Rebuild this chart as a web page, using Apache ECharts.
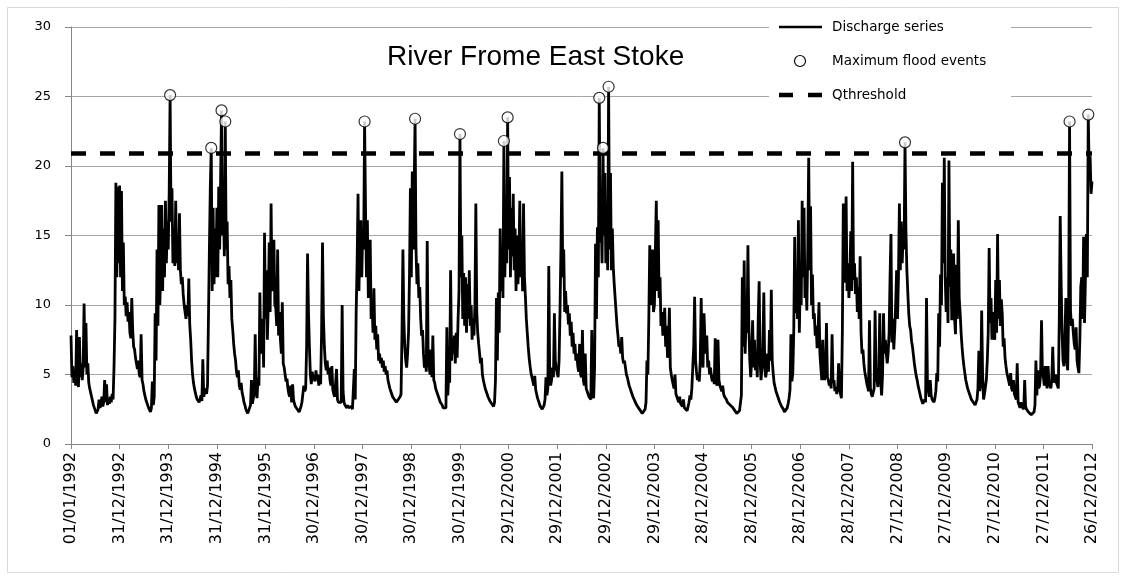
<!DOCTYPE html>
<html>
<head>
<meta charset="utf-8">
<script src="https://cdn.jsdelivr.net/npm/echarts@6/dist/echarts.min.js"></script>
<style>
html, body { margin: 0; padding: 0; background: #fff; }
#chart { width: 1128px; height: 580px; }
</style>
</head>
<body>
<div id="chart"></div>
<script>
// daily discharge, one value per ~week, one row per year
var years = [1992, 1993, 1994, 1995, 1996, 1997, 1998, 1999, 2000, 2001, 2002,
             2003, 2004, 2005, 2006, 2007, 2008, 2009, 2010, 2011, 2012];

var q1992 = [7.8,4.8,5.6,4.4,5.2,4.2,8.2,4.6,4.1,7.7, 4.8,5.8,4.6,5.5,10.1,5.5,8.7,5.0,5.8,4.4, 4.0,3.7,3.4,3.1,2.8,2.6,2.4,2.2,2.3,2.5, 3.2,2.6,2.8,3.4,2.7,3.0,4.6,3.0,4.3,2.8, 3.2,2.9,3.4,3.0,3.6,3.2,5.5,9.0,18.8,12.0, 18.5,13.0];
var q1993 = [18.6,12.0,18.2,11.0,14.5,10.0,10.6,9.2,10.2,8.8, 9.5,8.0,7.6,10.5,8.2,7.0,6.8,6.2,5.8,5.4, 6.0,5.0,4.8,7.9,4.6,4.3,3.8,3.5,3.2,3.0, 2.8,2.6,2.5,2.3,2.6,4.5,2.8,3.4,9.4,6.0, 14.0,8.5,17.2,10.0,12.5,17.2,11.0,15.5,12.0,17.5, 13.0,16.0];
var q1994 = [14.0,18.0,25.1,16.0,18.4,13.0,15.5,12.8,17.5,13.0, 15.0,12.5,16.6,12.5,11.5,12.0,10.8,10.0,9.5,9.0, 10.0,9.2,11.9,8.6,7.5,6.0,5.0,4.4,4.0,3.7, 3.4,3.2,3.1,3.0,3.2,3.5,3.1,6.1,3.4,3.8, 4.0,3.6,4.2,9.0,14.0,18.5,21.3,11.0,17.0,11.5, 15.5,12.0];
var q1995 = [17.0,12.0,18.5,14.0,19.0,24.0,15.0,17.5,13.5,23.2, 14.0,16.0,11.5,12.8,10.5,11.8,9.0,8.2,7.2,6.5, 6.0,5.2,4.8,5.3,4.2,3.9,4.4,3.7,3.4,3.0, 2.8,2.5,2.4,2.2,2.3,2.6,2.8,4.6,2.9,3.3, 3.6,7.9,3.8,3.3,4.8,4.2,10.9,6.5,7.8,9.0, 5.5,15.2];
var q1996 = [9.0,12.5,7.5,10.0,14.5,9.5,17.3,11.0,13.0,14.7, 10.0,9.8,8.5,14.0,7.8,9.5,7.5,6.5,10.2,5.8, 5.5,5.0,4.5,4.7,4.0,3.6,3.4,4.2,3.0,4.3, 3.2,2.9,2.7,2.6,2.5,2.4,2.3,2.5,2.7,3.0, 3.6,4.2,3.8,4.0,7.0,13.7,9.5,7.0,5.0,4.3, 5.2,4.6];
var q1997 = [4.8,4.5,5.3,4.6,5.0,4.2,4.9,4.3,8.0,14.5, 9.0,7.0,5.8,5.3,6.0,5.0,5.5,4.6,4.2,5.6, 3.9,3.6,3.4,3.3,5.4,3.2,3.0,3.1,2.9,3.0, 10.0,3.8,3.0,2.8,2.7,2.6,2.8,2.6,2.5,2.6, 2.7,2.5,2.6,5.4,3.2,9.5,13.0,18.0,11.0,15.0, 16.1,12.0];
var q1998 = [15.5,14.0,23.2,17.0,12.0,16.1,10.5,12.0,14.7,9.0, 10.2,8.0,11.2,7.5,8.5,6.8,7.9,6.0,6.5,5.8, 6.2,5.5,6.0,5.2,5.6,5.0,5.3,4.6,4.3,4.0, 3.8,3.6,3.4,3.3,3.2,3.1,3.0,3.0,3.2,3.1, 3.4,3.6,8.0,14.0,9.0,7.0,6.0,5.5,6.5,8.0, 12.0,18.4];
var q1999 = [12.0,19.6,14.0,18.4,23.4,14.0,11.5,13.0,10.5,11.3, 9.0,7.8,8.2,6.5,5.5,6.2,5.2,14.6,6.0,5.6, 5.0,6.8,4.8,7.8,4.6,4.4,4.0,3.8,3.6,3.4, 3.2,3.0,2.9,2.8,2.6,2.5,2.7,2.6,8.4,3.5, 5.0,4.4,12.5,6.0,7.6,6.5,7.8,5.8,8.0,6.2, 9.0,11.0];
var q2000 = [22.3,12.0,15.0,9.0,12.3,8.5,12.0,8.0,11.5,9.0, 12.5,8.5,10.0,7.5,9.0,7.8,10.0,17.3,9.5,8.0, 7.2,6.5,5.8,6.2,5.0,4.6,4.3,4.0,3.8,3.6, 3.4,3.3,3.1,3.0,2.9,2.8,2.7,3.0,4.6,10.5, 6.0,10.9,8.0,15.5,11.0,14.0,10.5,21.8,12.0,16.0, 13.0,23.5];
var q2001 = [14.0,19.2,12.0,17.0,13.5,18.0,12.5,15.5,11.0,15.0, 11.5,13.0,17.5,12.0,14.0,11.0,17.3,12.0,10.6,9.0, 8.0,7.0,6.2,5.6,5.1,4.8,4.5,4.2,4.9,3.9, 3.6,3.3,3.1,2.9,2.7,2.6,2.5,2.6,2.8,3.2, 4.8,3.5,4.0,12.8,5.0,4.2,4.6,5.5,4.8,9.4, 6.0,5.4];
var q2002 = [5.5,4.8,6.0,9.5,14.0,19.6,12.0,14.0,9.5,11.0, 9.4,10.0,8.6,9.4,7.8,8.8,7.0,8.0,6.5,7.2, 6.0,6.5,5.6,5.2,7.2,5.0,4.8,8.2,4.6,4.2, 6.5,4.0,3.8,3.6,3.4,3.3,3.2,8.2,3.6,3.3, 5.5,14.4,9.0,15.6,12.0,24.9,14.5,16.5,13.0,21.3, 15.0,19.5];
var q2003 = [13.0,17.0,12.5,25.7,14.0,19.5,12.5,15.5,12.7,11.5, 10.5,9.5,8.5,7.8,7.0,7.2,6.5,7.7,6.2,5.8, 6.0,5.5,5.0,4.8,4.5,4.2,4.0,3.8,3.6,3.4, 3.3,3.1,3.0,2.8,2.7,2.6,2.5,2.4,2.3,2.2, 2.2,2.3,2.5,3.0,6.0,5.0,9.0,14.3,10.0,11.0, 14.0,9.5];
var q2004 = [10.0,14.0,17.5,11.0,16.1,10.5,12.0,8.5,9.5,7.8, 8.5,9.8,7.0,8.5,6.2,7.0,9.8,5.5,5.0,4.6, 4.3,4.0,5.0,3.6,3.4,3.2,3.0,3.4,2.9,2.8, 2.7,3.2,2.6,2.5,2.6,2.4,2.5,3.0,3.5,3.2, 4.0,5.5,7.0,10.6,6.0,5.2,4.6,5.0,4.5,6.0, 10.5,6.5];
var q2005 = [5.5,9.4,7.5,6.5,7.8,5.5,6.0,5.0,5.5,4.8, 4.5,5.0,4.3,7.6,4.5,4.2,7.5,4.6,4.2,4.0, 3.8,4.2,3.6,3.4,3.5,3.2,3.0,3.1,2.9,2.8, 2.7,2.9,2.6,2.5,2.4,2.3,2.2,2.3,2.2,2.4, 2.3,3.5,12.0,7.0,13.2,6.5,9.0,8.0,14.3,8.5, 6.0,4.8];
var q2006 = [6.0,8.9,5.5,7.5,5.3,6.5,4.8,9.0,11.7,6.0, 4.6,5.5,7.0,10.9,5.5,4.8,5.3,6.5,5.2,8.2, 6.0,11.1,6.0,5.1,4.4,4.1,3.8,3.6,3.4,3.2, 3.0,2.9,2.7,2.6,2.5,2.3,2.2,2.4,2.6,2.9, 3.3,3.9,7.9,4.5,5.1,8.0,14.9,9.4,12.5,9.0, 16.1,8.0];
var q2007 = [12.0,10.0,17.5,12.0,17.0,10.5,12.0,9.6,14.0,20.6, 12.5,17.1,10.0,12.2,9.0,9.4,7.8,8.5,6.9,8.0, 10.2,6.5,5.5,4.6,7.5,5.0,4.6,5.2,8.7,4.8, 4.6,4.2,4.5,4.0,7.9,4.4,4.6,3.8,4.1,3.6, 4.0,5.8,4.0,3.6,3.3,8.0,17.3,11.6,14.0,17.8, 11.0,13.0];
var q2008 = [10.5,12.0,15.3,11.0,20.3,11.8,13.0,10.8,12.0,9.5, 11.3,9.0,13.5,8.0,6.5,6.8,5.8,5.2,4.8,4.4, 4.1,3.8,8.9,4.0,3.6,3.4,3.3,4.0,9.6,5.0, 4.6,4.1,5.5,9.4,4.5,3.5,5.0,9.4,6.5,7.5, 6.5,5.8,6.6,8.0,12.0,15.1,7.3,9.0,6.8,8.2, 10.0,12.5];
var q2009 = [9.0,12.0,17.3,12.5,16.0,13.0,15.0,14.0,21.7,15.4, 12.5,10.9,9.4,8.5,8.2,7.4,7.0,6.4,5.8,5.3, 4.9,4.6,4.2,3.9,3.6,3.3,3.1,2.9,2.8,3.2, 3.0,10.5,4.5,3.8,3.4,4.6,3.5,3.2,3.1,3.0, 3.3,3.8,5.1,4.5,9.4,7.0,12.2,10.0,18.8,13.0, 20.6,12.0];
var q2010 = [9.5,12.0,8.7,20.4,11.3,14.0,8.9,10.5,13.7,9.0, 7.9,12.9,9.0,16.1,10.5,9.4,8.0,7.0,6.2,5.6, 5.1,4.6,4.3,4.0,3.8,3.6,3.4,3.2,3.1,3.0, 2.9,2.8,2.9,3.2,4.0,6.7,3.8,4.4,9.6,5.0, 3.2,3.6,4.1,4.6,6.0,8.0,14.1,8.7,10.5,7.5, 9.5,8.0];
var q2011 = [7.5,11.8,8.0,15.1,9.0,11.8,8.5,10.4,9.4,7.0, 7.6,6.2,5.6,5.1,4.8,4.5,4.2,5.1,4.0,3.8, 4.6,3.6,3.4,3.2,5.8,3.0,2.8,2.6,3.0,2.7, 2.6,2.5,4.6,2.7,2.5,2.4,2.3,2.2,2.2,2.1, 2.2,2.1,2.3,2.8,6.0,3.5,5.3,4.0,4.2,5.0, 8.9,5.0];
var q2012 = [4.8,4.2,5.6,4.5,4.0,5.6,4.4,4.2,4.0,4.6, 7.0,4.8,4.4,5.0,4.4,4.2,4.0,9.0,16.4,11.6, 8.0,6.0,5.6,7.5,10.5,6.0,5.3,9.5,23.2,9.6, 8.5,9.0,8.0,7.2,6.8,8.4,6.0,5.5,5.1,7.5, 11.3,12.0,9.0,14.9,8.7,12.0,15.1,12.0,23.7,19.5, 20.7,18.0];
var qLast = 18.9;   // 26/12/2012

var qRows = [q1992, q1993, q1994, q1995, q1996, q1997, q1998, q1999, q2000, q2001, q2002,
             q2003, q2004, q2005, q2006, q2007, q2008, q2009, q2010, q2011, q2012];

var qThreshold = 20.9;

// maximum flood events: year and week of the peak in the rows above
var floodYear = [1994, 1994, 1995, 1995, 1998, 1999, 2000, 2000, 2000, 2002, 2002, 2003, 2009, 2012, 2012];
var floodWeek = [2, 46, 5, 9, 2, 4, 0, 47, 51, 45, 49, 3, 8, 28, 48];

var xTickLabels = ['01/01/1992', '31/12/1992', '31/12/1993', '31/12/1994', '31/12/1995',
                   '30/12/1996', '30/12/1997', '30/12/1998', '30/12/1999', '29/12/2000',
                   '29/12/2001', '29/12/2002', '29/12/2003', '28/12/2004', '28/12/2005',
                   '28/12/2006', '28/12/2007', '27/12/2008', '27/12/2009', '27/12/2010',
                   '27/12/2011', '26/12/2012'];
var yTicks = [0, 5, 10, 15, 20, 25, 30];

var legendNames = ['Discharge series', 'Maximum flood events', 'Qthreshold'];

var DAYS = 365 * (xTickLabels.length - 1);

function buildFlow() {
    var out = [];
    for (var j = 0; j < qRows.length; j++) {
        var row = qRows[j];
        for (var k = 0; k < row.length; k++) {
            out.push([j * 365 + k * 365 / row.length, row[k]]);
        }
    }
    out.push([DAYS, qLast]);
    return out;
}

function buildFloods() {
    var out = [];
    for (var i = 0; i < floodYear.length; i++) {
        var j = years.indexOf(floodYear[i]);
        var row = qRows[j];
        out.push([j * 365 + floodWeek[i] * 365 / row.length, row[floodWeek[i]]]);
    }
    return out;
}

// legend drawn by hand so the icons look like the Excel ones
function buildLegend() {
    var lx = 779, tx = 832, rows = [27, 61, 95];
    var els = [{
        type: 'rect', z: 100, silent: true,
        shape: { x: 769, y: 14, width: 242, height: 94 },
        style: { fill: '#fff' }
    }, {
        type: 'line', z: 101, silent: true,
        shape: { x1: lx, y1: rows[0], x2: lx + 43, y2: rows[0] },
        style: { stroke: '#000', lineWidth: 2.5 }
    }, {
        type: 'circle', z: 101, silent: true,
        shape: { cx: lx + 21, cy: rows[1], r: 5.5 },
        style: { fill: '#fff', stroke: '#000', lineWidth: 1.2 }
    }, {
        type: 'line', z: 101, silent: true,
        shape: { x1: lx, y1: rows[2], x2: lx + 43, y2: rows[2] },
        style: { stroke: '#000', lineWidth: 4.5, lineDash: [14, 15] }
    }];
    for (var i = 0; i < legendNames.length; i++) {
        els.push({
            type: 'text', z: 101, silent: true,
            x: tx, y: rows[i],
            style: {
                text: legendNames[i], fill: '#000',
                fontFamily: 'DejaVu Sans', fontSize: 13.5,
                verticalAlign: 'middle', align: 'left'
            }
        });
    }
    els.push({
        type: 'rect', z: 0, silent: true,
        shape: { x: 7.5, y: 7.5, width: 1111, height: 565 },
        style: { fill: 'none', stroke: '#d9d9d9', lineWidth: 1 }
    });
    return els;
}

var myChart = echarts.init(document.getElementById('chart'));

var axisGrey = '#868686';
var font = 'Liberation Sans';

var option = {
    animation: false,
    backgroundColor: '#fff',
    title: {
        text: 'River Frome East Stoke',
        left: 382,
        top: 38,
        textStyle: { fontFamily: font, fontSize: 28, fontWeight: 'normal', color: '#000' }
    },
    grid: { left: 71, right: 36, top: 27, bottom: 136 },
    xAxis: {
        type: 'value',
        min: 0,
        max: DAYS,
        interval: 365,
        splitLine: { show: false },
        axisLine: { lineStyle: { color: axisGrey, width: 1 } },
        axisTick: { show: true, length: 5, lineStyle: { color: axisGrey } },
        axisLabel: {
            rotate: 90,
            fontFamily: 'DejaVu Sans',
            fontSize: 16,
            color: '#000',
            margin: 8,
            showMaxLabel: true,
            formatter: function (v) { return xTickLabels[Math.round(v / 365)]; }
        }
    },
    yAxis: {
        type: 'value',
        min: yTicks[0],
        max: yTicks[yTicks.length - 1],
        interval: 5,
        axisLine: { show: true, lineStyle: { color: axisGrey, width: 1 } },
        axisTick: { show: true, length: 6, lineStyle: { color: axisGrey } },
        splitLine: { lineStyle: { color: '#a6a6a6', width: 1 } },
        axisLabel: { fontFamily: 'DejaVu Sans', fontSize: 13, color: '#000', margin: 20 }
    },
    series: [
        {
            name: legendNames[0],
            type: 'line',
            data: buildFlow(),
            showSymbol: false,
            symbol: 'none',
            lineStyle: { color: '#000', width: 2.8 },
            z: 3
        },
        {
            name: legendNames[1],
            type: 'scatter',
            data: buildFloods(),
            symbol: 'circle',
            symbolSize: 11,
            itemStyle: { color: '#fff', borderColor: '#000', borderWidth: 1.2 },
            z: 5
        },
        {
            name: legendNames[2],
            type: 'line',
            data: [[0, qThreshold], [DAYS, qThreshold]],
            showSymbol: false,
            symbol: 'none',
            lineStyle: { color: '#000', width: 4.5, type: [15, 14] },
            z: 4
        }
    ],
    graphic: buildLegend()
};

myChart.setOption(option);
</script>
</body>
</html>
